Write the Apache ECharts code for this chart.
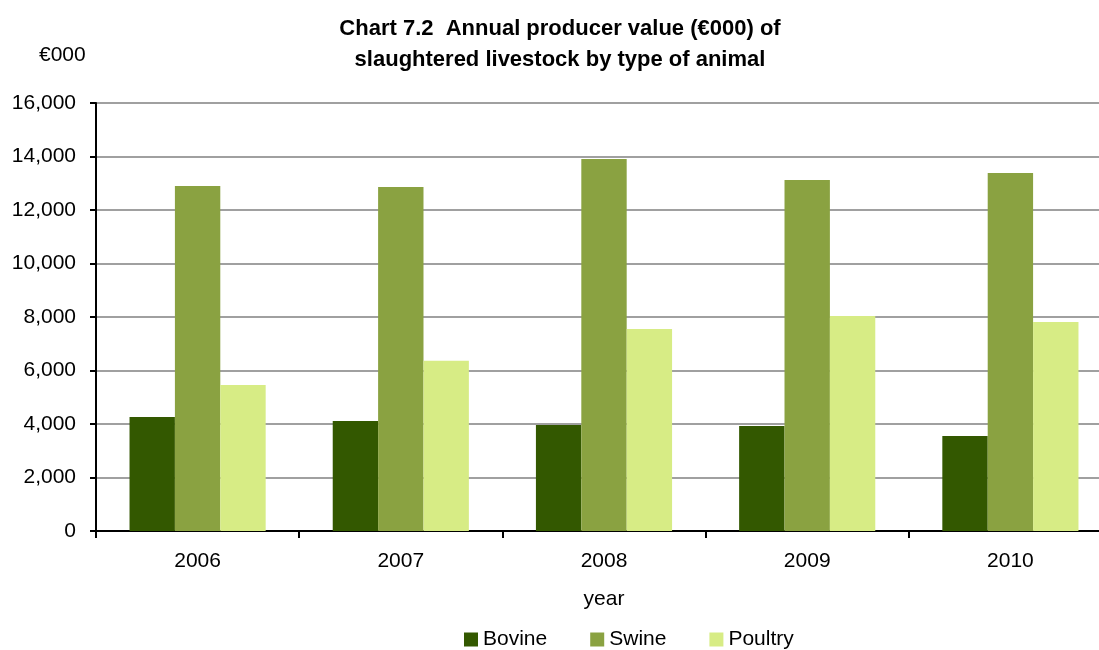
<!DOCTYPE html>
<html>
<head>
<meta charset="utf-8">
<script src="https://cdn.jsdelivr.net/npm/echarts@6/dist/echarts.min.js"></script>
<style>html,body{margin:0;padding:0;background:#fff}#c{width:1099px;height:650px}</style>
</head>
<body>
<div id="c"></div>
<script>
var categories = ['2006', '2007', '2008', '2009', '2010'];
var bovine = [4260, 4110, 3960, 3925, 3550];
var swine = [12900, 12860, 13910, 13120, 13380];
var poultry = [5460, 6360, 7550, 8040, 7810];
var yTicks = [0, 2000, 4000, 6000, 8000, 10000, 12000, 14000, 16000];

var font = '"Liberation Sans", Arial, sans-serif';
var chart = echarts.init(document.getElementById('c'), null, {renderer: 'canvas'});
chart.setOption({
  animation: false,
  backgroundColor: '#ffffff',
  title: {
    text: 'Chart 7.2  Annual producer value (€000) of\nslaughtered livestock by type of animal',
    left: 555, top: 8, textAlign: 'center',
    textStyle: {fontFamily: font, fontSize: 22, fontWeight: 'bold', color: '#000', lineHeight: 31}
  },
  graphic: [{
    type: 'text', left: 39, top: 45,
    style: {text: '€000', fontFamily: font, fontSize: 21, fill: '#000'}
  }],
  legend: {
    top: 629, left: 464, padding: 0,
    itemWidth: 14, itemHeight: 14, itemGap: 43,
    icon: 'rect',
    textStyle: {fontFamily: font, fontSize: 21, color: '#000'},
    data: ['Bovine', 'Swine', 'Poultry']
  },
  grid: {left: 96, top: 103, width: 1016, height: 428, outerBoundsMode: 'none'},
  xAxis: {
    type: 'category', data: categories,
    name: 'year', nameLocation: 'middle', nameGap: 58,
    nameTextStyle: {fontFamily: font, fontSize: 21, color: '#000'},
    axisLine: {lineStyle: {color: '#000', width: 2}},
    axisTick: {show: true, length: 7, lineStyle: {color: '#000', width: 2}},
    axisLabel: {fontFamily: font, fontSize: 21, color: '#000', margin: 20},
    splitLine: {show: false}
  },
  yAxis: {
    type: 'value', min: yTicks[0], max: yTicks[yTicks.length - 1], interval: 2000,
    axisLine: {show: true, lineStyle: {color: '#000', width: 2}},
    axisTick: {show: true, length: 6, lineStyle: {color: '#000', width: 2}},
    axisLabel: {fontFamily: font, fontSize: 21, color: '#000', margin: 20,
      formatter: function (v) { return v.toLocaleString('en-US'); }},
    splitLine: {show: true, lineStyle: {color: '#a0a0a0', width: 2}}
  },
  series: [
    {name: 'Bovine', type: 'bar', data: bovine, barGap: '0%', barCategoryGap: '33%', itemStyle: {color: '#335800'}},
    {name: 'Swine', type: 'bar', data: swine, itemStyle: {color: '#8aa241'}},
    {name: 'Poultry', type: 'bar', data: poultry, itemStyle: {color: '#d7ec85'}}
  ]
});
</script>
</body>
</html>
